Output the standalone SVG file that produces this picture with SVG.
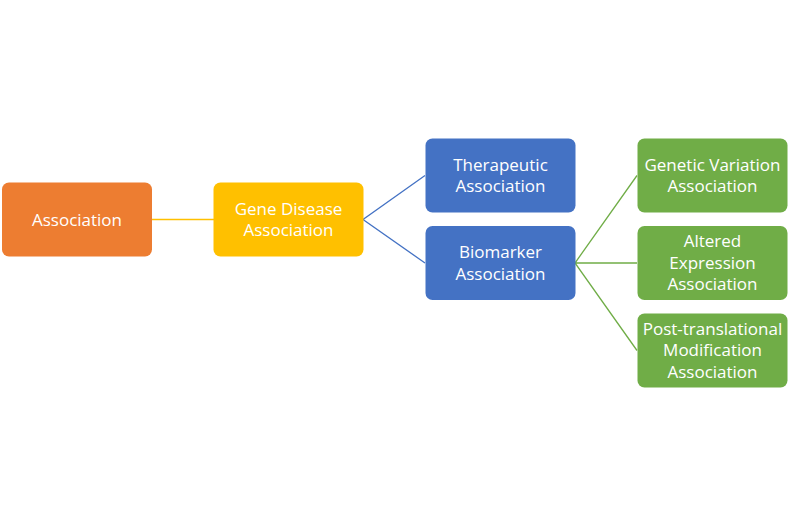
<svg xmlns="http://www.w3.org/2000/svg" width="800" height="526" viewBox="0 0 800 526">
<style>
.box{stroke:none}
.t{font-family:"Open Sans","Noto Sans","Liberation Sans",sans-serif;font-size:17px;fill:#fff;text-anchor:middle}
.c{fill:none;stroke-width:1.3}
</style>
<rect width="800" height="526" fill="#fff"/>
<g id="connectors">
<line class="c" x1="151" y1="219.5" x2="214" y2="219.5" stroke="#FFC000"/>
<path class="c" d="M425,175.5 L363,219.5 L425,263" stroke="#4472C4"/>
<path class="c" d="M637,175.5 L575,263 L637,350.5 M575,263 L637,263" stroke="#70AD47"/>
</g>
<g id="association">
<rect class="box" x="2" y="182.5" width="150" height="74" rx="7" fill="#ED7D31"/>
<text class="t" x="77" y="225.5">Association</text>
</g>
<g id="gene-disease">
<rect class="box" x="213.5" y="182.5" width="150" height="74" rx="7" fill="#FFC000"/>
<text class="t" x="288.5" y="214.5">Gene Disease</text>
<text class="t" x="288.5" y="236">Association</text>
</g>
<g id="therapeutic">
<rect class="box" x="425.5" y="138.5" width="150" height="74" rx="7" fill="#4472C4"/>
<text class="t" x="500.5" y="170.5">Therapeutic</text>
<text class="t" x="500.5" y="192">Association</text>
</g>
<g id="biomarker">
<rect class="box" x="425.5" y="226" width="150" height="74" rx="7" fill="#4472C4"/>
<text class="t" x="500.5" y="258">Biomarker</text>
<text class="t" x="500.5" y="279.5">Association</text>
</g>
<g id="genetic-variation">
<rect class="box" x="637.5" y="138.5" width="150" height="74" rx="7" fill="#70AD47"/>
<text class="t" x="712.5" y="170.5">Genetic Variation</text>
<text class="t" x="712.5" y="192">Association</text>
</g>
<g id="altered-expression">
<rect class="box" x="637.5" y="226" width="150" height="74" rx="7" fill="#70AD47"/>
<text class="t" x="712.5" y="247">Altered</text>
<text class="t" x="712.5" y="268.5">Expression</text>
<text class="t" x="712.5" y="290">Association</text>
</g>
<g id="post-translational">
<rect class="box" x="637.5" y="313.5" width="150" height="74" rx="7" fill="#70AD47"/>
<text class="t" x="712.5" y="334.5">Post-translational</text>
<text class="t" x="712.5" y="356">Modification</text>
<text class="t" x="712.5" y="377.5">Association</text>
</g>
</svg>
